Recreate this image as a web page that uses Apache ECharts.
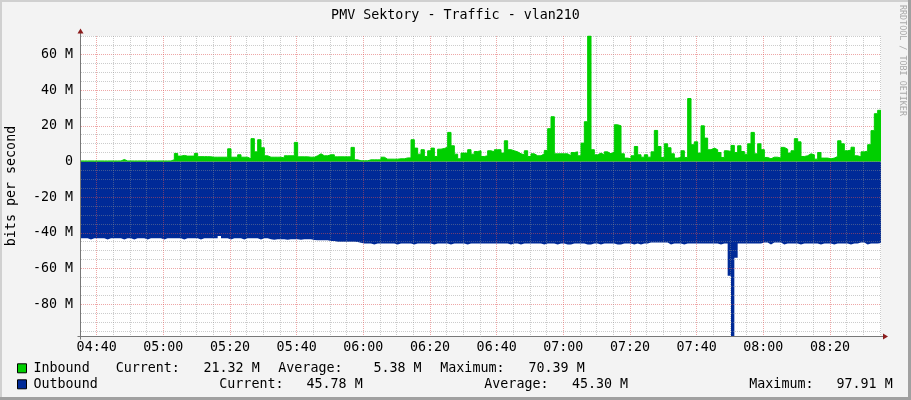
<!DOCTYPE html>
<html><head><meta charset="utf-8">
<script src="https://cdn.jsdelivr.net/npm/echarts@6/dist/echarts.min.js"></script>
<style>html,body{margin:0;padding:0;background:#f3f3f3;overflow:hidden}#c{width:911px;height:400px}</style>
</head><body><div id="c"></div>
<script>
// ---------- data ----------
const chartTitle = 'PMV Sektory - Traffic - vlan210';
const yAxisTitle = 'bits per second';
const watermark = 'RRDTOOL / TOBI OETIKER';
const startMinute = 275.3;          // minutes since midnight (04:35:18)
const endMinute = 515.3;            // 08:35:18
const stepMinutes = 1;              // one sample per minute
const yMin = -97.91, yMax = 70.39;  // M bits/s (rrdtool autoscale)
const xLabelMinutes = [280, 300, 320, 340, 360, 380, 400, 420, 440, 460, 480, 500];
const xGridMinutes = [280,285,290,295,300,305,310,315,320,325,330,335,340,345,350,355,360,365,370,375,380,385,390,395,400,405,410,415,420,425,430,435,440,445,450,455,460,465,470,475,480,485,490,495,500,505,510,515];
const yLabelValues = [-80, -60, -40, -20, 0, 20, 40, 60];
const yGridValues = [-95,-90,-85,-80,-75,-70,-65,-60,-55,-50,-45,-40,-35,-30,-25,-20,-15,-10,-5,0,5,10,15,20,25,30,35,40,45,50,55,60,65,70];
const seriesNames = ['Inbound', 'Outbound'];
const statLabels = ['Current:', 'Average:', 'Maximum:'];
const inboundStats = ['21.32 M', '5.38 M', '70.39 M'];
const outboundStats = ['45.78 M', '45.30 M', '97.91 M'];

// Inbound, M bits/s, one value per minute
const inbound = [
  0.3,0.3,0.3,0.3,0.3,0.3,0.3,0.3,0.3,0.3,
  0.3,0.3,1.1,0.3,0.3,0.3,0.3,0.3,0.3,0.3,
  0.3,0.3,0.3,0.3,0.3,0.3,0.3,1.0,4.5,3.0,
  3.4,3.0,3.0,3.0,4.5,2.7,2.7,2.7,2.6,2.4,
  2.4,2.4,2.4,2.4,7.1,2.4,2.4,3.75,2.4,2.4,
  1.5,12.8,5.4,12.2,7.7,3.2,2.4,2.4,2.4,2.4,
  2.0,3.2,3.2,3.2,10.7,2.6,2.6,2.6,2.4,2.4,
  3.2,4.3,3.2,3.2,3.75,3.75,2.6,2.6,2.6,2.6,
  2.6,7.9,0.9,0.4,0.4,0.4,0.9,0.9,0.9,0.9,
  2.4,1.3,1.3,1.3,1.3,1.5,1.5,2.0,2.0,12.2,
  7.5,4.1,6.6,2.8,6.0,7.5,2.8,6.9,7.3,8.0,
  16.3,8.8,4.1,1.5,4.7,4.7,6.6,4.1,5.6,6.0,
  2.8,3.2,6.0,5.4,6.6,6.6,4.7,11.6,6.6,6.0,
  5.4,4.3,3.75,6.0,2.8,4.3,3.2,3.2,4.3,6.2,
  18.4,25.1,4.3,4.3,4.3,4.3,3.2,5.0,5.4,3.2,
  10.3,22.3,70.39,6.6,3.75,4.7,3.75,5.4,4.3,5.4,
  20.6,20.0,4.3,1.9,1.5,3.2,8.4,3.75,2.4,3.75,
  2.4,5.4,17.4,8.4,2.25,9.9,7.7,4.3,1.9,2.25,
  6.0,2.25,35.3,9.4,11.0,4.7,20.0,13.1,6.6,7.5,
  6.6,5.0,2.25,6.0,5.6,9.0,5.0,8.8,5.6,4.1,
  9.9,16.3,4.3,9.9,6.6,2.25,1.5,2.4,2.4,1.9,
  7.9,6.9,4.7,6.0,12.8,11.0,2.8,3.2,4.3,3.75,
  1.3,5.0,1.9,1.9,1.5,1.9,2.8,11.6,9.9,6.0,
  6.4,8.0,3.2,2.6,5.4,5.8,9.4,17.3,26.8,28.7,
  28.7
];
// Outbound, drawn negative, M bits/s
const outbound = [
  -43.1,-43.1,-43.8,-43.1,-43.1,-43.1,-43.1,-43.8,-43.1,-43.1,
  -43.1,-43.1,-43.8,-43.1,-43.1,-43.8,-43.1,-43.1,-43.1,-43.8,
  -43.1,-43.1,-43.1,-43.1,-43.8,-43.1,-43.1,-43.1,-43.1,-43.1,
  -43.8,-43.1,-43.1,-43.1,-43.1,-43.8,-43.1,-43.1,-43.1,-43.1,
  -43.1,-41.8,-43.1,-43.1,-43.8,-43.1,-43.1,-43.1,-43.8,-43.1,
  -43.1,-43.1,-43.1,-43.8,-43.1,-43.1,-43.6,-43.9,-43.6,-43.6,
  -43.6,-43.9,-43.6,-43.6,-43.6,-43.9,-43.6,-43.6,-43.6,-44.0,
  -44.2,-44.2,-44.2,-44.2,-44.6,-44.6,-45.0,-45.0,-45.0,-45.0,
  -45.0,-45.0,-45.2,-45.6,-46.0,-46.0,-46.0,-46.6,-46.0,-46.0,
  -46.0,-46.0,-46.0,-46.0,-46.6,-46.0,-46.0,-46.0,-46.0,-46.6,
  -46.0,-46.0,-46.0,-46.0,-46.0,-46.6,-46.0,-46.0,-46.0,-46.0,
  -46.6,-46.0,-46.0,-46.0,-46.0,-46.6,-46.0,-46.0,-46.0,-46.0,
  -46.0,-46.0,-46.0,-46.0,-46.0,-46.0,-46.0,-46.0,-46.6,-46.0,
  -46.0,-46.6,-46.0,-46.0,-46.0,-46.0,-46.0,-46.0,-46.6,-46.0,
  -46.0,-46.0,-46.6,-46.0,-46.0,-46.6,-46.6,-46.0,-46.0,-46.0,
  -46.0,-46.6,-46.6,-46.0,-46.0,-46.6,-46.0,-46.0,-46.0,-46.0,
  -46.6,-46.6,-46.0,-46.0,-46.0,-46.6,-46.0,-46.6,-46.0,-46.0,
  -45.5,-45.5,-45.5,-45.5,-45.5,-45.5,-46.6,-46.0,-46.0,-46.0,
  -46.6,-46.0,-46.0,-46.0,-46.0,-46.0,-46.0,-46.0,-46.0,-46.0,
  -46.0,-46.6,-46.0,-46.0,-64.1,-97.91,-54.0,-46.0,-46.0,-46.0,
  -46.0,-46.0,-46.0,-46.0,-45.5,-45.5,-46.6,-45.5,-45.5,-45.5,
  -46.6,-46.0,-46.0,-46.0,-46.0,-46.6,-46.0,-46.0,-46.0,-46.0,
  -46.0,-46.6,-46.0,-46.0,-46.0,-46.6,-46.0,-46.0,-46.0,-46.0,
  -46.6,-46.0,-46.0,-45.5,-45.5,-46.6,-46.0,-46.0,-46.0,-45.8,
  -45.8
];

// ---------- chart ----------
const FONT = 'DejaVu Sans Mono';
const FS = 13.33;
const MINOR = 'rgba(143,143,143,0.45)';
const MAJOR = 'rgba(222,80,80,0.5)';
const AXIS = '#777777';
const ARROW = '#8b1c1c';

const toPairs = arr => arr.map((v, i) => [startMinute + i * stepMinutes, v]);
const hhmm = m => { const h = Math.floor(m / 60), mm = Math.round(m % 60); return String(h).padStart(2,'0') + ':' + String(mm).padStart(2,'0'); };

const chart = echarts.init(document.getElementById('c'), null, {renderer: 'canvas'});

const option = {
  animation: false,
  backgroundColor: '#f3f3f3',
  grid: {left: 81, right: 30, top: 36, bottom: 64, show: true, backgroundColor: '#ffffff', borderWidth: 0},
  xAxis: {
    type: 'value', min: startMinute, max: endMinute, z: 2,
    axisLine: {show: false},
    axisTick: {show: false, customValues: xGridMinutes},
    axisLabel: {customValues: xLabelMinutes, formatter: v => hhmm(v), color: '#000', fontFamily: FONT, fontSize: FS, margin: 5},
    splitLine: {show: true, customValues: xGridMinutes, lineStyle: {color: [MAJOR, MINOR, MINOR, MINOR], width: 1, type: [1, 1]}},
    minorSplitLine: {show: false}
  },
  yAxis: {
    type: 'value', min: yMin, max: yMax, z: 2,
    axisLine: {show: false},
    axisTick: {show: false, customValues: yGridValues},
    axisLabel: {customValues: yLabelValues, formatter: v => (v === 0 ? '0' : v + ' M'), color: '#000', fontFamily: FONT, fontSize: FS, margin: 8},
    splitLine: {show: true, customValues: yGridValues, lineStyle: {color: [MINOR, MINOR, MINOR, MAJOR], width: 1, type: [1, 1]}}
  },
  series: [
    {
      name: seriesNames[1], type: 'line', step: 'end', symbol: 'none', z: 1,
      data: toPairs(outbound),
      lineStyle: {width: 0, color: '#002a97'},
      itemStyle: {color: '#002a97'},
      areaStyle: {color: '#002a97', opacity: 1}
    },
    {
      name: seriesNames[0], type: 'line', step: 'end', symbol: 'none', z: 3,
      data: toPairs(inbound),
      lineStyle: {width: 1, color: '#00cf00'},
      itemStyle: {color: '#00cf00'},
      areaStyle: {color: '#00cf00', opacity: 1}
    }
  ]
};
chart.setOption(option);

// ---------- decorations (axes with arrows, title, legend, frame) ----------
const tl = chart.convertToPixel({xAxisIndex: 0, yAxisIndex: 0}, [startMinute, yMax]);
const br = chart.convertToPixel({xAxisIndex: 0, yAxisIndex: 0}, [endMinute, yMin]);
const ax = Math.round(tl[0]) - 0.5, ay = Math.round(br[1]) + 0.5;

function txt(x, y, s, extra) {
  return Object.assign({type: 'text', x: x, y: y, silent: true, z: 10,
    style: Object.assign({text: s, font: FS + 'px "' + FONT + '"', fill: '#000', align: 'left', verticalAlign: 'middle', textAlign: 'left', textVerticalAlign: 'middle'}, extra && extra.style)},
    extra && extra.props);
}

const legendRowsY = [368.8, 384.8];
const line1X = [115.7, 203.5, 278.3, 373.5, 440.3, 528.5];
const line2X = [219.3, 306.5, 484.3, 571.9, 749.3, 836.5];
const legendColors = ['#00cf00', '#002a97'];

const elements = [
  // frame
  {type: 'rect', shape: {x: 0, y: 0, width: 911, height: 2}, style: {fill: '#d0d0d0'}, silent: true, z: 1},
  {type: 'rect', shape: {x: 0, y: 0, width: 2, height: 400}, style: {fill: '#d0d0d0'}, silent: true, z: 1},
  {type: 'rect', shape: {x: 908, y: 0, width: 3, height: 400}, style: {fill: '#a0a0a0'}, silent: true, z: 1},
  {type: 'rect', shape: {x: 0, y: 397, width: 911, height: 3}, style: {fill: '#a0a0a0'}, silent: true, z: 1},
  // axes
  {type: 'line', shape: {x1: ax, y1: tl[1] - 3, x2: ax, y2: ay + 3}, style: {stroke: AXIS, lineWidth: 1}, silent: true, z: 10},
  {type: 'line', shape: {x1: ax - 3, y1: ay, x2: br[0] + 2, y2: ay}, style: {stroke: AXIS, lineWidth: 1}, silent: true, z: 10},
  {type: 'polygon', shape: {points: [[ax, tl[1] - 7.5], [ax - 3, tl[1] - 2.5], [ax + 3, tl[1] - 2.5]]}, style: {fill: ARROW}, silent: true, z: 11},
  {type: 'polygon', shape: {points: [[br[0] + 7, ay], [br[0] + 2, ay - 3], [br[0] + 2, ay + 3]]}, style: {fill: ARROW}, silent: true, z: 11},
  // title
  txt(455.5, 15.5, chartTitle, {style: {align: 'center', textAlign: 'center'}}),
  // y axis title
  txt(11.5, (tl[1] + br[1]) / 2, yAxisTitle, {style: {align: 'center', textAlign: 'center'}, props: {rotation: Math.PI / 2}}),
  // watermark
  txt(902.5, 5, watermark, {style: {font: '8.4px "' + FONT + '"', fill: '#a8a8a8'}, props: {rotation: -Math.PI / 2}})
];

[inboundStats, outboundStats].forEach((stats, r) => {
  const y = legendRowsY[r];
  const xs = r === 0 ? line1X : line2X;
  elements.push({type: 'rect', shape: {x: 17.5, y: y - 5, width: 9, height: 9}, style: {fill: legendColors[r], stroke: '#000', lineWidth: 1}, silent: true, z: 10});
  elements.push(txt(33.5, y, seriesNames[r]));
  for (let k = 0; k < 3; k++) {
    elements.push(txt(xs[2 * k], y, statLabels[k]));
    elements.push(txt(xs[2 * k + 1], y, stats[k]));
  }
});

chart.setOption({graphic: {elements: elements}});
</script>
</body></html>
